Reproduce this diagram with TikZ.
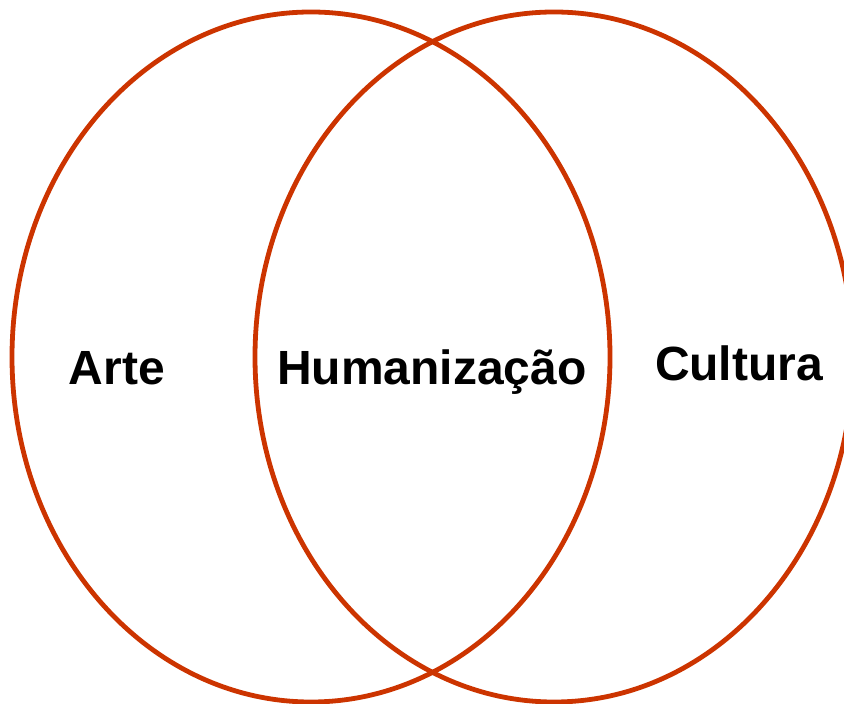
\documentclass[tikz,border=0pt]{standalone}
\usepackage{fontspec}
\setmainfont{Liberation Sans}
\definecolor{venn}{RGB}{204,52,0}
\begin{document}
\begin{tikzpicture}[x=0.5pt,y=-0.5pt,
  ring/.style={draw=venn,line width=2.4pt},
  lbl/.style={font=\fontsize{24}{29}\selectfont\bfseries,anchor=base,inner sep=0pt}]
\useasboundingbox (0,0) rectangle (844,704);
\draw[ring] (311,357) ellipse [x radius=149.5pt, y radius=172.5pt];
\draw[ring] (554,357) ellipse [x radius=149.5pt, y radius=172.5pt];
\node[lbl] (arte) at (117,385) {Arte};
\node[lbl] (hum) at (432,385) {Humanização};
\node[lbl] (cult) at (739,381) {Cultura};
\end{tikzpicture}
\end{document}
